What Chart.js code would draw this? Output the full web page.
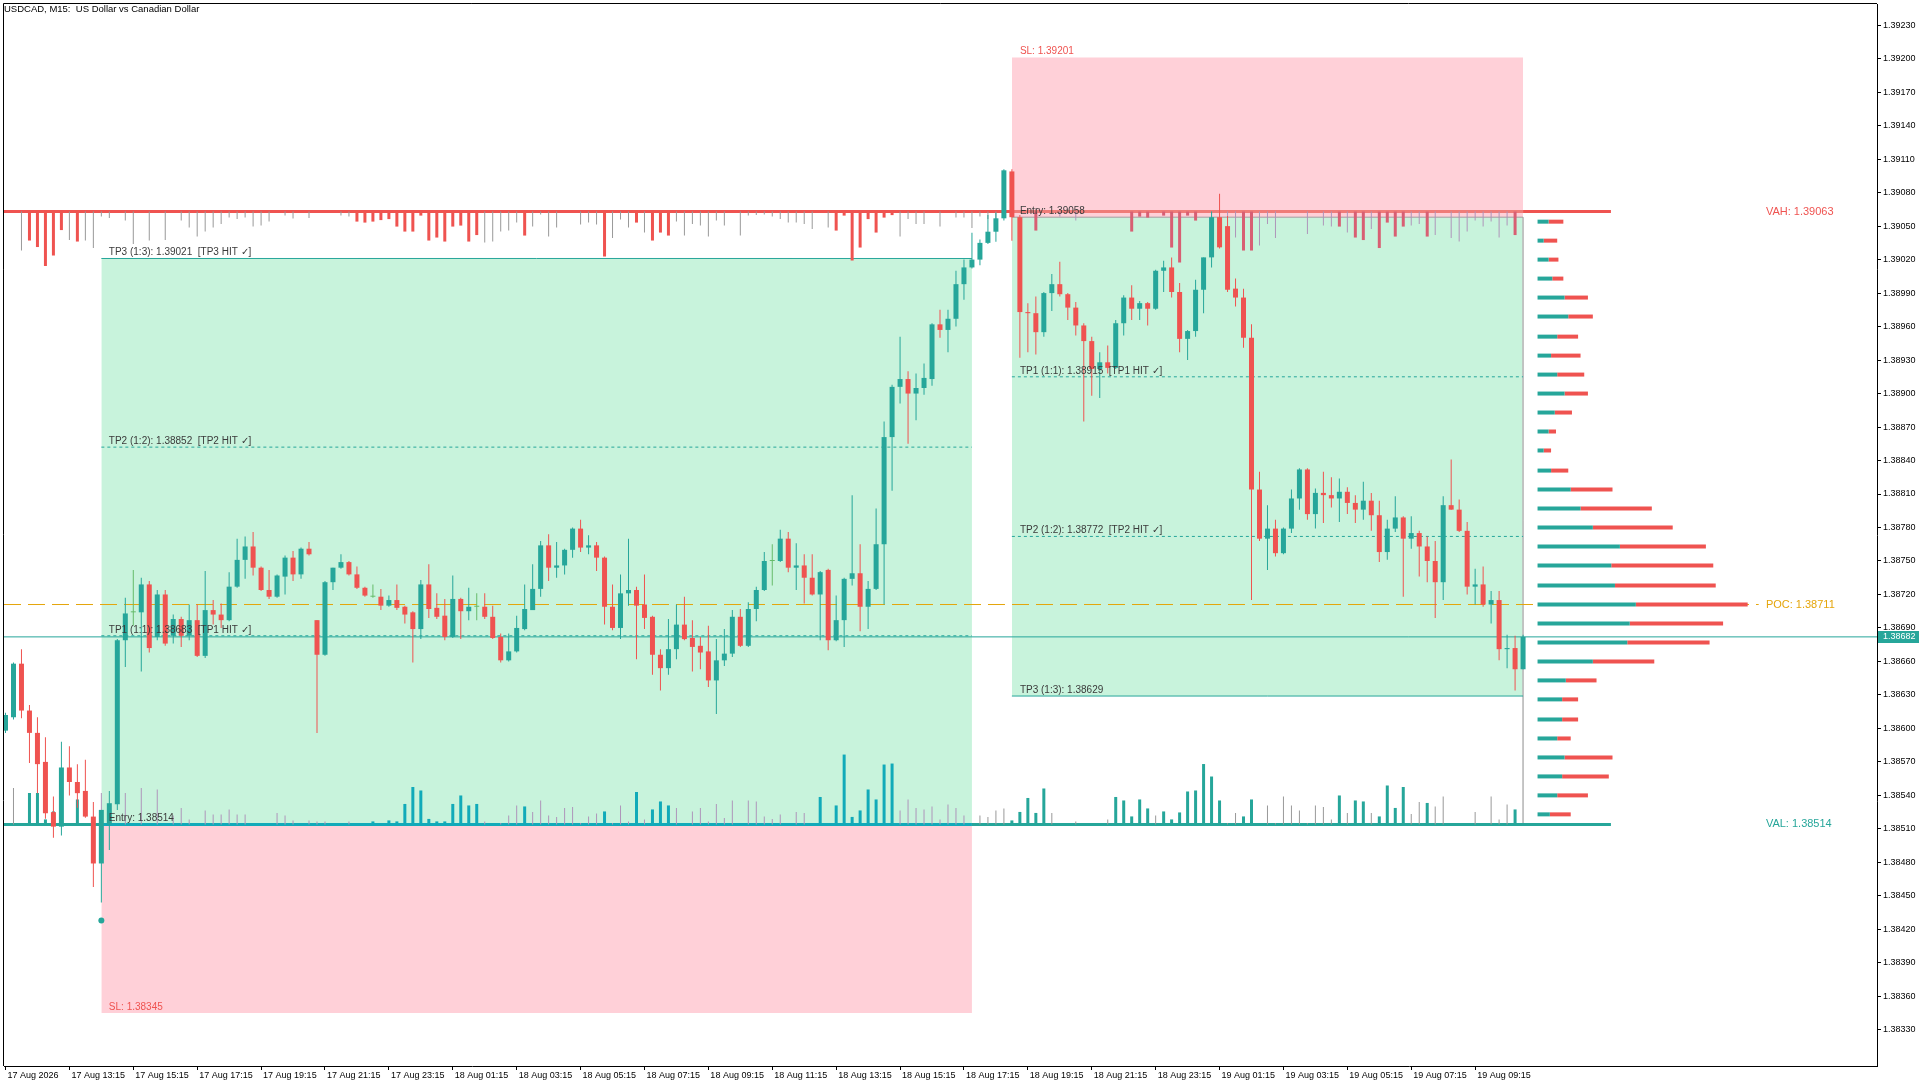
<!DOCTYPE html>
<html><head><meta charset="utf-8">
<script src="https://cdn.jsdelivr.net/npm/chart.js"></script>
<style>html,body{margin:0;padding:0;background:#fff;overflow:hidden}canvas{display:block}</style>
</head><body>
<canvas id="c" width="1920" height="1080" style="width:1920px;height:1080px"></canvas>
<script>
// ---------------- DATA ----------------
const TITLE = 'USDCAD, M15:  US Dollar vs Canadian Dollar';
const xTickIdx = [0,8,16,24,32,40,48,56,64,72,80,88,96,104,112,120,128,136,144,152,160,168,176,184];
const xTickLabels = ['17 Aug 2026','17 Aug 13:15','17 Aug 15:15','17 Aug 17:15','17 Aug 19:15','17 Aug 21:15','17 Aug 23:15',
  '18 Aug 01:15','18 Aug 03:15','18 Aug 05:15','18 Aug 07:15','18 Aug 09:15','18 Aug 11:15','18 Aug 13:15','18 Aug 15:15',
  '18 Aug 17:15','18 Aug 19:15','18 Aug 21:15','18 Aug 23:15','19 Aug 01:15','19 Aug 03:15','19 Aug 05:15','19 Aug 07:15','19 Aug 09:15'];
const yTicks = [1.38330,1.38360,1.38390,1.38420,1.38450,1.38480,1.38510,1.38540,1.38570,1.38600,1.38630,1.38660,1.38690,
  1.38720,1.38750,1.38780,1.38810,1.38840,1.38870,1.38900,1.38930,1.38960,1.38990,1.39020,1.39050,1.39080,1.39110,1.39140,
  1.39170,1.39200,1.39230];

const openP = [
1.38598,1.38610,1.38658,1.38616,1.38596,1.38570,1.38525,1.38512,1.38565,1.38552,
1.38544,1.38521,1.38479,1.38514,1.38532,1.38679,1.38704,1.38704,1.38729,1.38682,
1.38720,1.38683,1.38698,1.38683,1.38697,1.38665,1.38706,1.38702,1.38697,1.38727,
1.38751,1.38763,1.38744,1.38724,1.38718,1.38736,1.38753,1.38738,1.38761,1.38697,
1.38666,1.38731,1.38744,1.38749,1.38738,1.38726,1.38718,1.38718,1.38710,1.38715,
1.38709,1.38704,1.38689,1.38729,1.38708,1.38701,1.38682,1.38716,1.38705,1.38709,
1.38709,1.38700,1.38682,1.38661,1.38669,1.38689,1.38706,1.38725,1.38764,1.38744,
1.38746,1.38760,1.38779,1.38762,1.38764,1.38753,1.38709,1.38690,1.38721,1.38724,
1.38711,1.38700,1.38666,1.38654,1.38671,1.38693,1.38681,1.38674,1.38669,1.38643,
1.38661,1.38667,1.38700,1.38674,1.38707,1.38724,1.38750,1.38750,1.38770,1.38744,
1.38746,1.38735,1.38720,1.38742,1.38679,1.38697,1.38734,1.38739,1.38709,1.38725,
1.38765,1.38861,1.38906,1.38913,1.38900,1.38905,1.38913,1.38962,1.38957,1.38967,
1.38998,1.39013,1.39020,1.39035,1.39045,1.39057,1.39099,1.39058,1.38973,1.38972,
1.38955,1.38990,1.38998,1.38989,1.38977,1.38961,1.38947,1.38922,1.38928,1.38923,
1.38963,1.38986,1.38976,1.38981,1.38976,1.39010,1.39013,1.38991,1.38949,1.38956,
1.38993,1.39022,1.39058,1.39050,1.38994,1.38986,1.38950,1.38814,1.38770,1.38779,
1.38757,1.38779,1.38806,1.38832,1.38792,1.38811,1.38809,1.38806,1.38812,1.38802,
1.38796,1.38804,1.38791,1.38758,1.38779,1.38789,1.38770,1.38775,1.38763,1.38750,
1.38731,1.38800,1.38796,1.38777,1.38727,1.38729,1.38711,1.38715,1.38671,1.38672,
1.38653];
const highP = [
1.38614,1.38659,1.38671,1.38621,1.38610,1.38592,1.38539,1.38588,1.38584,1.38568,
1.38572,1.38534,1.38527,1.38544,1.38680,1.38717,1.38742,1.38735,1.38732,1.38724,
1.38724,1.38702,1.38700,1.38711,1.38711,1.38741,1.38715,1.38712,1.38740,1.38770,
1.38772,1.38776,1.38745,1.38742,1.38738,1.38755,1.38759,1.38762,1.38767,1.38697,
1.38732,1.38744,1.38756,1.38750,1.38745,1.38727,1.38729,1.38725,1.38719,1.38729,
1.38710,1.38705,1.38733,1.38747,1.38721,1.38716,1.38737,1.38717,1.38726,1.38721,
1.38721,1.38710,1.38685,1.38685,1.38701,1.38729,1.38747,1.38768,1.38774,1.38767,
1.38761,1.38780,1.38787,1.38773,1.38767,1.38754,1.38729,1.38738,1.38770,1.38727,
1.38738,1.38701,1.38671,1.38698,1.38711,1.38718,1.38697,1.38682,1.38692,1.38680,
1.38689,1.38706,1.38707,1.38713,1.38727,1.38758,1.38765,1.38778,1.38776,1.38766,
1.38756,1.38756,1.38741,1.38743,1.38719,1.38735,1.38809,1.38765,1.38732,1.38797,
1.38875,1.38908,1.38951,1.38920,1.38918,1.38927,1.38963,1.38975,1.38975,1.39010,
1.39020,1.39044,1.39038,1.39060,1.39062,1.39101,1.39101,1.39060,1.38981,1.38987,
1.38991,1.39007,1.39018,1.38990,1.38982,1.38963,1.38951,1.38937,1.38943,1.38966,
1.38988,1.38997,1.38983,1.38982,1.39011,1.39019,1.39022,1.38999,1.38957,1.39002,
1.39022,1.39063,1.39079,1.39059,1.39003,1.38994,1.38962,1.38830,1.38800,1.38787,
1.38780,1.38814,1.38833,1.38833,1.38815,1.38830,1.38825,1.38824,1.38816,1.38809,
1.38821,1.38811,1.38804,1.38787,1.38808,1.38790,1.38790,1.38777,1.38772,1.38768,
1.38808,1.38841,1.38805,1.38785,1.38743,1.38745,1.38723,1.38723,1.38684,1.38683,
1.38684];
const lowP = [
1.38596,1.38608,1.38609,1.38569,1.38542,1.38519,1.38502,1.38504,1.38540,1.38529,
1.38520,1.38458,1.38444,1.38491,1.38527,1.38655,1.38692,1.38651,1.38668,1.38679,
1.38674,1.38676,1.38673,1.38679,1.38664,1.38663,1.38693,1.38690,1.38696,1.38726,
1.38734,1.38737,1.38723,1.38716,1.38717,1.38720,1.38732,1.38734,1.38755,1.38596,
1.38665,1.38724,1.38743,1.38737,1.38725,1.38718,1.38717,1.38706,1.38709,1.38706,
1.38694,1.38659,1.38680,1.38699,1.38698,1.38679,1.38681,1.38680,1.38697,1.38697,
1.38698,1.38680,1.38659,1.38660,1.38668,1.38688,1.38706,1.38718,1.38732,1.38735,
1.38738,1.38753,1.38758,1.38756,1.38741,1.38693,1.38688,1.38680,1.38710,1.38662,
1.38689,1.38648,1.38634,1.38648,1.38662,1.38679,1.38651,1.38653,1.38637,1.38613,
1.38656,1.38664,1.38673,1.38673,1.38696,1.38723,1.38728,1.38749,1.38740,1.38724,
1.38712,1.38719,1.38679,1.38670,1.38678,1.38673,1.38728,1.38687,1.38689,1.38724,
1.38711,1.38813,1.38891,1.38855,1.38876,1.38899,1.38907,1.38950,1.38937,1.38960,
1.38984,1.39012,1.39015,1.39034,1.39036,1.39055,1.39037,1.38932,1.38937,1.38935,
1.38951,1.38974,1.38987,1.38966,1.38952,1.38875,1.38898,1.38896,1.38918,1.38922,
1.38952,1.38966,1.38966,1.38961,1.38975,1.38991,1.38986,1.38937,1.38930,1.38951,
1.38972,1.39013,1.39030,1.38991,1.38978,1.38941,1.38715,1.38768,1.38742,1.38754,
1.38756,1.38775,1.38796,1.38787,1.38779,1.38784,1.38798,1.38785,1.38792,1.38784,
1.38787,1.38777,1.38749,1.38751,1.38776,1.38718,1.38761,1.38736,1.38731,1.38699,
1.38715,1.38796,1.38776,1.38720,1.38711,1.38709,1.38694,1.38661,1.38654,1.38634,
1.38653];
const closeP = [
1.38612,1.38658,1.38616,1.38596,1.38568,1.38524,1.38512,1.38565,1.38552,1.38542,
1.38521,1.38479,1.38527,1.38533,1.38679,1.38703,1.38704,1.38729,1.38672,1.38720,
1.38676,1.38698,1.38683,1.38697,1.38665,1.38706,1.38702,1.38697,1.38727,1.38751,
1.38763,1.38744,1.38724,1.38718,1.38737,1.38753,1.38738,1.38761,1.38756,1.38666,
1.38731,1.38744,1.38749,1.38738,1.38726,1.38719,1.38718,1.38710,1.38715,1.38708,
1.38702,1.38689,1.38729,1.38707,1.38700,1.38682,1.38716,1.38705,1.38709,1.38709,
1.38700,1.38681,1.38661,1.38669,1.38690,1.38707,1.38725,1.38764,1.38744,1.38746,
1.38760,1.38779,1.38762,1.38764,1.38753,1.38709,1.38690,1.38721,1.38724,1.38710,
1.38699,1.38666,1.38654,1.38671,1.38693,1.38680,1.38673,1.38668,1.38643,1.38661,
1.38667,1.38700,1.38674,1.38707,1.38724,1.38750,1.38750,1.38770,1.38744,1.38746,
1.38735,1.38720,1.38740,1.38679,1.38697,1.38734,1.38739,1.38709,1.38725,1.38765,
1.38861,1.38906,1.38913,1.38900,1.38905,1.38914,1.38962,1.38957,1.38967,1.38998,
1.39013,1.39020,1.39035,1.39045,1.39057,1.39100,1.39058,1.38973,1.38972,1.38955,
1.38990,1.38998,1.38989,1.38977,1.38961,1.38947,1.38922,1.38928,1.38923,1.38963,
1.38986,1.38976,1.38981,1.38976,1.39010,1.39013,1.38991,1.38949,1.38956,1.38993,
1.39022,1.39058,1.39031,1.38993,1.38986,1.38950,1.38814,1.38770,1.38779,1.38757,
1.38779,1.38806,1.38832,1.38792,1.38811,1.38809,1.38806,1.38812,1.38802,1.38796,
1.38804,1.38791,1.38758,1.38779,1.38789,1.38770,1.38775,1.38763,1.38750,1.38731,
1.38800,1.38796,1.38777,1.38727,1.38729,1.38711,1.38715,1.38671,1.38672,1.38653,
1.38682];

// indicator volumes (hanging from VAH = sell, rising from VAL = buy)
const sellVol = [
0,0,390,290,355,545,440,185,285,300, 290,365,50,65,0,90,325,0,290,0,
285,0,90,160,250,200,160,125,60,75, 60,150,140,100,0,40,70,0,65,0,
0,0,40,50,100,110,100,85,75,150, 200,200,40,290,260,300,150,140,300,235,
310,300,200,190,110,240,150,30,250,160, 0,0,130,110,130,450,265,80,160,110,
210,290,210,240,100,240,125,140,250,90, 140,0,240,40,35,30,50,75,110,110,
125,175,0,160,190,40,490,360,75,210, 60,35,250,75,125,125,0,150,0,60,
60,165,50,75,75,0,0,0,0,190, 0,0,50,0,90,0,0,0,0,0,
0,200,50,60,0,40,360,510,40,90, 0,25,0,50,260,390,390,340,125,265,
0,0,0,225,0,140,150,150,210,260, 285,175,365,110,250,150,140,125,250,235,
0,265,300,200,90,150,100,260,140,235, 0];
const buyVol = [
0,365,0,315,315,50,130,0,0,250, 0,0,315,0,0,315,0,365,0,350,
0,90,165,50,0,140,100,100,150,100, 100,0,0,0,115,90,40,0,40,30,
30,0,0,30,0,0,30,0,40,30, 205,375,340,55,30,30,205,290,190,205,
30,0,15,90,190,180,125,240,90,75, 165,175,15,80,110,130,15,190,30,325,
50,150,230,190,165,0,130,165,30,205, 65,240,0,240,230,80,55,100,0,125,
115,0,275,0,190,700,75,140,350,250, 600,610,140,250,165,150,180,50,200,165,
90,0,90,75,140,160,40,125,265,115, 360,115,0,0,30,0,0,0,50,275,
240,80,250,160,90,130,50,120,330,340, 605,480,240,15,115,80,250,0,190,15,
280,190,140,15,190,175,50,290,115,240, 230,115,80,390,165,375,105,225,215,180,
280,0,0,0,125,0,280,50,200,150, 0];
const sellStrong = [3,4,5,6,7,9,44,45,46,47,48,49,50,51,52,53,54,55,56,57,58,59,65,75,79,81,82,83,
  104,105,106,107,108,109,110,111,129,141,142,143,145,146,147,148,149,155,156,167,169,170,172,173,174,175,178,189];
const buyStrong = [3,4,5,6,9,46,48,49,50,51,52,53,54,55,56,57,58,59,65,75,79,81,82,83,102,104,105,106,107,108,109,110,111,
  126,127,128,129,130,139,140,141,142,143,145,146,147,148,149,150,151,152,155,156,167,169,170,172,173,174,175,178,189];

// volume profile (rows bottom -> top)
const profRows = [1.38523,1.38540,1.38557,1.38574,1.38591,1.38608,1.38626,1.38643,1.38660,1.38677,1.38694,1.38711,
  1.38728,1.38746,1.38763,1.38780,1.38797,1.38814,1.38831,1.38849,1.38866,1.38883,1.38900,1.38917,1.38934,1.38951,
  1.38969,1.38986,1.39003,1.39020,1.39037,1.39054];
const profBuy  = [10,16,20,22,16,20,20,23,45,73,75,80,63,60,67,45,35,27,11,5,9,14,22,16,11,16,25,22,12,9,5,9];
const profSell = [17,25,38,39,11,13,13,25,50,67,76,91,82,83,70,65,58,34,14,6,6,14,19,22,24,17,20,19,9,8,11,12];

const VAH = 1.39063, VAL = 1.38514, POC = 1.38711, LAST = 1.38682;
const LONG  = {start:12,  end:121, entry:1.38514, sl:1.38345, tp1:1.38683, tp2:1.38852, tp3:1.39021};
const SHORT = {start:126, end:190, entry:1.39058, sl:1.39201, tp1:1.38915, tp2:1.38772, tp3:1.38629};
const LONG_HIT = [true,true,true], SHORT_HIT = [true,true,false];
const SIGNAL = {i:12, price:1.38428};

// ---------------- STYLE ----------------
const TEAL='#26A69A', RED='#EF5350', DOJI='#66BB6A', GRAY='rgb(153,153,153)';
const CYAN_X='rgb(17,170,185)', MAUVE_X='rgb(174,149,186)', CRIMSON_X='rgb(216,95,115)', SALMON_X='rgb(239,124,120)';
const GREEN_BOX='rgb(200,243,220)', PINK_BOX='rgb(255,208,216)', POC_C='#E5A50A';
const VOLK = 8.94e-7;            // indicator scaling: price units per volume unit
const X_MIN = -0.1875, X_MAX = 234.3125, Y_MIN = 1.3829756, Y_MAX = 1.392490;
const XP_MIN = -(1537-1)/1.2308, XP_MAX = XP_MIN + 1876/1.2308;
const VA_END = 201, POC_END = 219.5, LABEL_X = 220.4;
const FONT = "'Liberation Sans', Arial, sans-serif";

Chart.defaults.font.family = FONT;
Chart.defaults.font.size = 9;
Chart.defaults.color = '#000';

const idx = openP.map((_, i) => i);
const candleColor = i => closeP[i] === openP[i] ? DOJI : (closeP[i] > openP[i] ? TEAL : RED);
const inRange = (i, p) => i >= p.start && i <= p.end;
const rx = c => (c.raw && c.raw.x !== undefined) ? c.raw.x : -1;

function volBars(vals, strongList, strong, top) {
  return vals.map((v, i) => ({v, i}))
    .filter(o => o.v > 0 && strongList.includes(o.i) === strong)
    .map(o => ({x: o.i, y: top ? [VAH - o.v * VOLK, VAH] : [VAL, VAL + o.v * VOLK]}));
}
const barBase = {type:'bar', grouped:false, barPercentage:1, categoryPercentage:1, inflateAmount:0, xAxisID:'x', yAxisID:'y'};
function boxDs(x0, x1, top, bottom, color) {
  return {type:'line', data:[{x:x0,y:top},{x:x1,y:top}], fill:{value:bottom}, backgroundColor:color,
    borderWidth:0, pointRadius:0, order:20};
}
function lineDs(pts, color, width, dash, order) {
  return {type:'line', data:pts, borderColor:color, borderWidth:width, borderDash:dash || [],
    pointRadius:0, fill:false, tension:0, order:order};
}
const hl = (x0, x1, y) => [{x:x0,y},{x:x1,y}];

const datasets = [
  // candles
  Object.assign({}, barBase, {data: idx.map(i => ({x:i, y:[openP[i], closeP[i]]})), maxBarThickness:5, minBarLength:1,
    backgroundColor: c => candleColor(c.dataIndex || 0), order:1}),
  Object.assign({}, barBase, {data: idx.map(i => ({x:i, y:[lowP[i], highP[i]]})), maxBarThickness:1,
    backgroundColor: c => candleColor(c.dataIndex || 0), order:2}),
  {type:'line', data:[{x:SIGNAL.i, y:SIGNAL.price}], showLine:false, pointRadius:3, pointBackgroundColor:TEAL,
    pointBorderWidth:0, order:0},
  // indicator bars
  Object.assign({}, barBase, {data: volBars(buyVol, buyStrong, true, false), maxBarThickness:3,
    backgroundColor: c => inRange(rx(c), LONG) ? CYAN_X : TEAL, order:5}),
  Object.assign({}, barBase, {data: volBars(buyVol, buyStrong, false, false), maxBarThickness:1,
    backgroundColor: c => inRange(rx(c), LONG) ? MAUVE_X : GRAY, order:5}),
  Object.assign({}, barBase, {data: volBars(sellVol, sellStrong, true, true), maxBarThickness:3,
    backgroundColor: c => inRange(rx(c), SHORT) ? CRIMSON_X : RED, order:5}),
  Object.assign({}, barBase, {data: volBars(sellVol, sellStrong, false, true), maxBarThickness:1,
    backgroundColor: c => inRange(rx(c), SHORT) ? MAUVE_X : GRAY, order:5}),
  // volume profile
  {type:'bar', indexAxis:'y', xAxisID:'xp', yAxisID:'yp', grouped:false, barPercentage:1, categoryPercentage:1,
    inflateAmount:0, maxBarThickness:4, data: profRows.map((p,k) => ({y:p, x:[0, profBuy[k]]})), backgroundColor:TEAL, order:4},
  {type:'bar', indexAxis:'y', xAxisID:'xp', yAxisID:'yp', grouped:false, barPercentage:1, categoryPercentage:1,
    inflateAmount:0, maxBarThickness:4, data: profRows.map((p,k) => ({y:p, x:[profBuy[k], profBuy[k]+profSell[k]]})), backgroundColor:RED, order:4},
  // value area lines
  Object.assign(lineDs([{x:X_MIN,y:VAH},{x:SHORT.start,y:VAH},{x:SHORT.end,y:VAH},{x:VA_END,y:VAH}], RED, 3, null, 6),
    {segment:{borderColor: c => c.p0DataIndex === 1 ? SALMON_X : RED}}),
  Object.assign(lineDs([{x:X_MIN,y:VAL},{x:LONG.start,y:VAL},{x:LONG.end,y:VAL},{x:VA_END,y:VAL}], TEAL, 3, null, 6),
    {segment:{borderColor: c => c.p0DataIndex === 1 ? CYAN_X : TEAL}}),
  lineDs(hl(X_MIN, POC_END, POC), POC_C, 1, [17,7], 7),
  lineDs(hl(X_MIN, X_MAX, LAST), TEAL, 1, null, 7),
  // long position lines
  lineDs(hl(LONG.start, LONG.end, LONG.tp3), TEAL, 1, null, 8),
  lineDs(hl(LONG.start, LONG.end, LONG.tp2), TEAL, 1, [3,3], 8),
  lineDs(hl(LONG.start, LONG.end, LONG.tp1), TEAL, 1, [3,3], 8),
  // short position lines
  lineDs(hl(SHORT.start, SHORT.end, SHORT.entry), '#9E9E9E', 1, null, 8),
  lineDs(hl(SHORT.start, SHORT.end, SHORT.tp1), TEAL, 1, [3,3], 8),
  lineDs(hl(SHORT.start, SHORT.end, SHORT.tp2), TEAL, 1, [3,3], 8),
  lineDs(hl(SHORT.start, SHORT.end, SHORT.tp3), TEAL, 1, null, 8),
  lineDs([{x:SHORT.end,y:SHORT.entry},{x:SHORT.end,y:VAL}], '#BDBDBD', 1, null, 8),
  // position boxes
  boxDs(LONG.start, LONG.end, LONG.tp3, LONG.entry, GREEN_BOX),
  boxDs(LONG.start, LONG.end, LONG.entry, LONG.sl, PINK_BOX),
  boxDs(SHORT.start, SHORT.end, SHORT.sl, SHORT.entry, PINK_BOX),
  boxDs(SHORT.start, SHORT.end, SHORT.entry, SHORT.tp3, GREEN_BOX)
];

const tpText = (n, v, hit) => `TP${n} (1:${n}): ${v.toFixed(5)}` + (hit ? `  [TP${n} HIT \u2713]` : '');

const overlay = {
  id: 'overlay',
  afterDraw(chart) {
    const {ctx, chartArea: a} = chart;
    const x = chart.scales.x, y = chart.scales.y;
    ctx.save();
    // frame (left/top)
    ctx.strokeStyle = '#000'; ctx.lineWidth = 1;
    ctx.beginPath();
    ctx.moveTo(a.left - 0.5, a.bottom); ctx.lineTo(a.left - 0.5, a.top - 0.5); ctx.lineTo(a.right, a.top - 0.5);
    ctx.stroke();
    // title
    ctx.fillStyle = '#000'; ctx.font = `9.5px ${FONT}`; ctx.textBaseline = 'middle'; ctx.textAlign = 'left';
    ctx.fillText(TITLE, 4, 9);
    // position labels
    ctx.font = `10px ${FONT}`; ctx.textBaseline = 'bottom';
    const put = (txt, px, price, color) => { ctx.fillStyle = color; ctx.fillText(txt, px, y.getPixelForValue(price) - 1); };
    const lx = x.getPixelForValue(LONG.start) + 7.5, sx = x.getPixelForValue(SHORT.start) + 8;
    const TXT = '#3A3A3A';
    put(tpText(3, LONG.tp3, LONG_HIT[2]), lx, LONG.tp3, TXT);
    put(tpText(2, LONG.tp2, LONG_HIT[1]), lx, LONG.tp2, TXT);
    put(tpText(1, LONG.tp1, LONG_HIT[0]), lx, LONG.tp1, TXT);
    put('Entry: ' + LONG.entry.toFixed(5), lx, LONG.entry, TXT);
    put('SL: ' + LONG.sl.toFixed(5), lx, LONG.sl, RED);
    put('SL: ' + SHORT.sl.toFixed(5), sx, SHORT.sl, RED);
    put('Entry: ' + SHORT.entry.toFixed(5), sx, SHORT.entry, TXT);
    put(tpText(1, SHORT.tp1, SHORT_HIT[0]), sx, SHORT.tp1, TXT);
    put(tpText(2, SHORT.tp2, SHORT_HIT[1]), sx, SHORT.tp2, TXT);
    put(tpText(3, SHORT.tp3, SHORT_HIT[2]), sx, SHORT.tp3, TXT);
    // value area labels
    ctx.font = `11px ${FONT}`; ctx.textBaseline = 'middle';
    const vx = x.getPixelForValue(LABEL_X);
    ctx.fillStyle = RED;   ctx.fillText('VAH: ' + VAH.toFixed(5), vx, y.getPixelForValue(VAH));
    ctx.fillStyle = POC_C; ctx.fillText('POC: ' + POC.toFixed(5), vx, y.getPixelForValue(POC));
    ctx.fillStyle = TEAL;  ctx.fillText('VAL: ' + VAL.toFixed(5), vx, y.getPixelForValue(VAL));
    // last price tag
    const py = y.getPixelForValue(LAST);
    ctx.fillStyle = TEAL; ctx.fillRect(a.right + 1, Math.round(py) - 6, 41, 12);
    ctx.fillStyle = '#fff'; ctx.font = `9px ${FONT}`;
    ctx.fillText(LAST.toFixed(5), a.right + 6, py);
    ctx.restore();
  }
};

new Chart(document.getElementById('c'), {
  type: 'bar',
  data: {datasets},
  options: {
    responsive: false, animation: false, devicePixelRatio: 1,
    layout: {padding: {top: 2, left: 1, right: 0, bottom: 0}},
    plugins: {legend: {display: false}, tooltip: {enabled: false}},
    scales: {
      x: {type:'linear', position:'bottom', min:X_MIN, max:X_MAX, offset:false, bounds:'data',
        afterBuildTicks: s => { s.ticks = xTickIdx.map(v => ({value: v})); },
        afterFit: s => { s.height = 14; s.paddingLeft = 0; s.paddingRight = 0; },
        ticks: {autoSkip:false, maxRotation:0, minRotation:0, align:'start', labelOffset:2, padding:0, color:'#000',
          font:{size:9}, callback: v => { const k = xTickIdx.indexOf(v); return k >= 0 ? xTickLabels[k] : ''; }},
        grid: {drawOnChartArea:false, drawTicks:true, tickLength:4, color:'#000', offset:false},
        border: {display:true, color:'#000', width:1}},
      y: {type:'linear', position:'right', min:Y_MIN, max:Y_MAX, offset:false, bounds:'data',
        afterBuildTicks: s => { s.ticks = yTicks.map(v => ({value: v})); },
        afterFit: s => { s.width = 43; s.paddingTop = 0; s.paddingBottom = 0; },
        ticks: {crossAlign:'near', padding:2, color:'#000', font:{size:9}, callback: v => Number(v).toFixed(5)},
        grid: {drawOnChartArea:false, drawTicks:true, tickLength:4, color:'#000', offset:false},
        border: {display:true, color:'#000', width:1}},
      xp: {type:'linear', display:false, min:XP_MIN, max:XP_MAX, offset:false, bounds:'data'},
      yp: {type:'linear', display:false, min:Y_MIN, max:Y_MAX, offset:false, bounds:'data'}
    }
  },
  plugins: [overlay]
});
</script>
</body></html>
